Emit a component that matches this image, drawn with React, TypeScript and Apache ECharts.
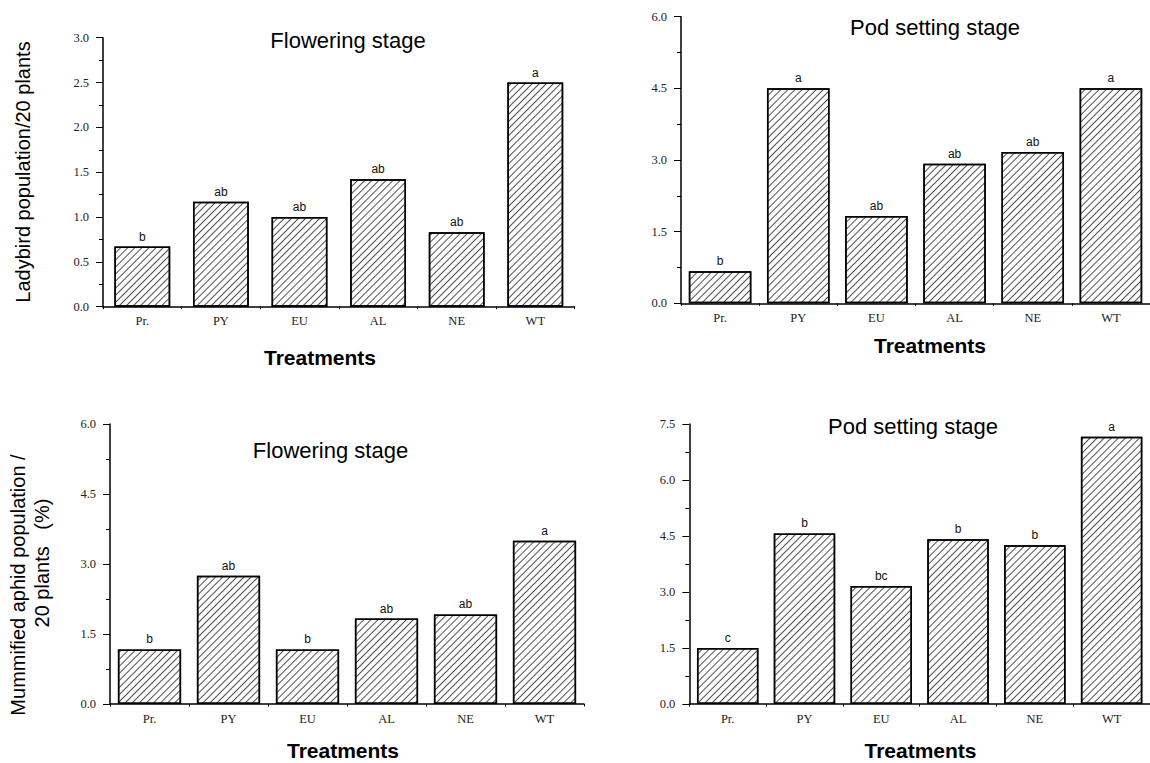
import React, { useEffect, useRef } from "react";
import * as echarts from "echarts";

const categories = ["Pr.", "PY", "EU", "AL", "NE", "WT"];

const ladybirdFlowering = [0.67, 1.17, 1.0, 1.42, 0.83, 2.5];
const ladybirdFloweringLetters = ["b", "ab", "ab", "ab", "ab", "a"];

const ladybirdPod = [0.67, 4.5, 1.83, 2.92, 3.17, 4.5];
const ladybirdPodLetters = ["b", "a", "ab", "ab", "ab", "a"];

const mummyFlowering = [1.17, 2.75, 1.17, 1.83, 1.92, 3.5];
const mummyFloweringLetters = ["b", "ab", "b", "ab", "ab", "a"];

const mummyPod = [1.5, 4.57, 3.16, 4.41, 4.25, 7.16];
const mummyPodLetters = ["c", "b", "bc", "b", "b", "a"];

const yMax = [3.0, 6.0, 6.0, 7.5];
const yInterval = [0.5, 1.5, 1.5, 1.5];

const panelTitles = ["Flowering stage", "Pod setting stage", "Flowering stage", "Pod setting stage"];
const xAxisTitle = "Treatments";
const yTitleTop = "Ladybird population/20 plants";
const yTitleBottom1 = "Mummified aphid population /";
const yTitleBottom2 = "20 plants   (%)";

export default function App() {
  const ref = useRef<HTMLDivElement>(null);

  useEffect(() => {
    if (!ref.current) return;
    const chart = echarts.init(ref.current, null, { renderer: "svg" });

    const grids = [
      { left: 103, top: 37.7, width: 471.6, height: 269 },
      { left: 681, top: 16.7, width: 474, height: 286.6 },
      { left: 110, top: 424, width: 474, height: 280 },
      { left: 689.3, top: 424, width: 470, height: 280 },
    ];
    const data = [ladybirdFlowering, ladybirdPod, mummyFlowering, mummyPod];
    const letters = [ladybirdFloweringLetters, ladybirdPodLetters, mummyFloweringLetters, mummyPodLetters];
    const gaps = ["29%", "20%", "20%", "20%"];

    const tickFont = { fontFamily: "Liberation Serif", fontSize: 12.5, color: "#222" };

    const xAxes: any[] = [];
    const yAxes: any[] = [];
    const series: any[] = [];
    grids.forEach((g, i) => {
      xAxes.push({
        type: "category",
        gridIndex: i,
        data: categories,
        boundaryGap: true,
        axisLine: { lineStyle: { color: "#000", width: 1.5 } },
        axisTick: { alignWithLabel: true, length: 5, lineStyle: { color: "#000" } },
        axisLabel: { ...tickFont, margin: 8 },
        splitLine: { show: false },
      });
      xAxes.push({
        type: "value",
        gridIndex: i,
        min: 0,
        max: 6,
        interval: 1,
        position: "bottom",
        axisLine: { show: false },
        axisTick: { show: true, length: 2.5, lineStyle: { color: "#000" } },
        axisLabel: { show: false },
        splitLine: { show: false },
      });
      yAxes.push({
        type: "value",
        gridIndex: i,
        min: 0,
        max: yMax[i],
        interval: yInterval[i],
        axisLine: { show: true, lineStyle: { color: "#000", width: 1.5 } },
        axisTick: { show: true, length: 7, lineStyle: { color: "#000" } },
        minorTick: { show: true, splitNumber: 2, length: 4, lineStyle: { color: "#000" } },
        axisLabel: { ...tickFont, margin: 14, formatter: (v: number) => v.toFixed(1) },
        splitLine: { show: false },
      });
      const lt = letters[i];
      series.push({
        type: "bar",
        xAxisIndex: i * 2,
        yAxisIndex: i,
        data: data[i],
        barCategoryGap: gaps[i],
        itemStyle: {
          color: "#fff",
          borderColor: "#000",
          borderWidth: 1.5,
          decal: {
            symbol: "rect",
            symbolSize: 0.8,
            color: "#222",
            backgroundColor: "#fff",
            dashArrayX: [1, 0],
            dashArrayY: [1, 4],
            rotation: -Math.PI / 4,
          },
        },
        label: {
          show: true,
          position: "top",
          distance: 4,
          fontFamily: "Liberation Sans",
          fontSize: 12,
          color: "#111",
          formatter: (p: any) => lt[p.dataIndex],
        },
      });
    });

    const textStyle = (txt: string, size: number, bold = false) => ({
      text: txt,
      fontFamily: "Liberation Sans",
      fontSize: size,
      fontWeight: bold ? "bold" : "normal",
      fill: "#000",
      align: "center",
      verticalAlign: "middle",
    });

    const titlePos = [
      [348, 40],
      [935, 27],
      [330.5, 450],
      [913, 426],
    ];
    const xNamePos = [
      [320, 357],
      [930, 345],
      [343, 750],
      [920.5, 750],
    ];

    const graphic: any[] = [];
    titlePos.forEach((p, i) => {
      graphic.push({ type: "text", x: p[0], y: p[1], style: textStyle(panelTitles[i], 22) });
    });
    xNamePos.forEach((p) => {
      graphic.push({ type: "text", x: p[0], y: p[1], style: textStyle(xAxisTitle, 21, true) });
    });
    graphic.push({ type: "text", x: 23, y: 172, rotation: Math.PI / 2, style: textStyle(yTitleTop, 20) });
    graphic.push({ type: "text", x: 18, y: 585, rotation: Math.PI / 2, style: textStyle(yTitleBottom1, 20) });
    graphic.push({ type: "text", x: 42, y: 563, rotation: Math.PI / 2, style: textStyle(yTitleBottom2, 20) });

    chart.setOption({
      animation: false,
      backgroundColor: "#fff",
      grid: grids,
      xAxis: xAxes,
      yAxis: yAxes,
      series,
      graphic,
    });

    return () => chart.dispose();
  }, []);

  return (
    <div
      ref={ref}
      style={{ position: "fixed", left: 0, top: 0, width: 1150, height: 763, background: "#fff" }}
    />
  );
}
